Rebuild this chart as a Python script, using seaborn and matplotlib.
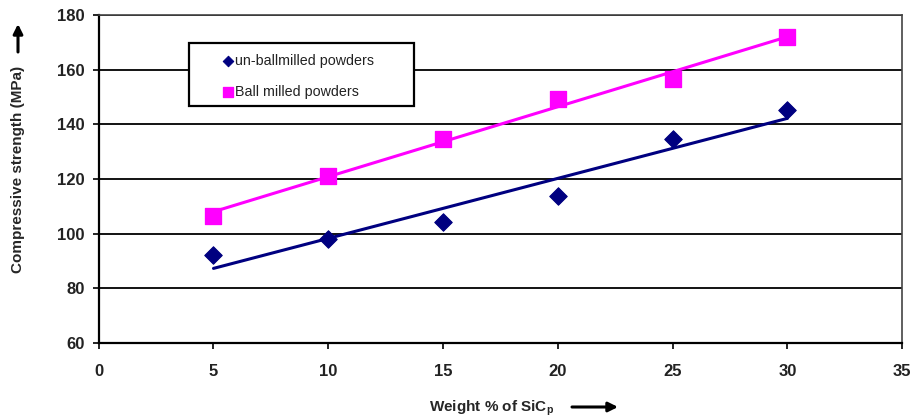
import matplotlib
matplotlib.use("Agg")
import matplotlib.pyplot as plt
from matplotlib.patches import Rectangle
import seaborn as sns
import pandas as pd

# wt% SiCp
weight_pct = [5, 10, 15, 20, 25, 30]
unballmilled = [92.3, 98.2, 104.4, 113.7, 134.8, 145.3]
ballmilled = [106.6, 121.3, 134.6, 149.3, 156.5, 172.1]

df = pd.DataFrame({"x": weight_pct, "un": unballmilled, "ball": ballmilled})

sns.set_style("white")
plt.rcParams["font.family"] = ["Liberation Sans", "DejaVu Sans"]

fig, ax = plt.subplots(figsize=(9.14, 4.18), dpi=100)
fig.subplots_adjust(left=0.108, right=0.987, top=0.964, bottom=0.179)

# trend lines
sns.regplot(data=df, x="x", y="un", scatter=False, ci=None, color="#000080",
            line_kws={"lw": 2.2}, ax=ax)
sns.regplot(data=df, x="x", y="ball", scatter=False, ci=None, color="#ff00ff",
            line_kws={"lw": 2.2}, ax=ax)

sns.scatterplot(data=df, x="x", y="un", marker="D", s=80, color="#000080",
                edgecolor="#000080", label="un-ballmilled powders", ax=ax, zorder=4)
sns.scatterplot(data=df, x="x", y="ball", marker="s", s=140, color="#ff00ff",
                edgecolor="#ff00ff", label="Ball milled powders", ax=ax, zorder=4)

ax.set_xlim(0, 35)
ax.set_ylim(60, 180)
ax.set_xticks(range(0, 36, 5))
ax.set_yticks(range(60, 181, 20))
ax.yaxis.grid(True, color="black", lw=1.3)
ax.set_axisbelow(True)

for s in ["left", "bottom"]:
    ax.spines[s].set_color("black")
    ax.spines[s].set_linewidth(1.6)
for s in ["top", "right"]:
    ax.spines[s].set_color("#444444")
    ax.spines[s].set_linewidth(1.2)

ax.tick_params(axis="both", direction="out", length=4, width=1.2, color="black",
               labelsize=12, bottom=True, left=True)
for lbl in ax.get_xticklabels() + ax.get_yticklabels():
    lbl.set_fontweight("bold")
    lbl.set_color("#222222")
ax.tick_params(axis="x", pad=11)
ax.tick_params(axis="y", pad=6)

ax.set_xlabel(r"Weight % of SiC$_\mathregular{p}$", fontsize=11, fontweight="bold")
ax.set_ylabel("Compressive strength (MPa)", fontsize=11, fontweight="bold")
ax.xaxis.set_label_coords(0.489, -0.168)
ax.yaxis.set_label_coords(-0.092, 0.53)

# thick label arrows
arrow = dict(arrowstyle="-|>", lw=2.2, color="black", mutation_scale=14,
             shrinkA=0, shrinkB=0)
fig.add_artist(matplotlib.patches.FancyArrowPatch((572, 11), (618, 11),
               transform=None, **arrow))
fig.add_artist(matplotlib.patches.FancyArrowPatch((18, 366), (18, 394),
               transform=None, **arrow))

# legend box
box = Rectangle((0.113, 0.722), 0.279, 0.193, transform=ax.transAxes,
                facecolor="white", edgecolor="black", lw=1.6, zorder=5)
ax.add_patch(box)
leg = ax.legend(loc="upper left", bbox_to_anchor=(0.154, 0.882), frameon=False,
                fontsize=10.3, handletextpad=0.05, handlelength=0.8, borderpad=0,
                labelspacing=1.19, markerscale=0.6, borderaxespad=0)
leg.set_zorder(6)
for t in leg.get_texts():
    t.set_color("#222222")

fig.savefig("out.png", dpi=100)
